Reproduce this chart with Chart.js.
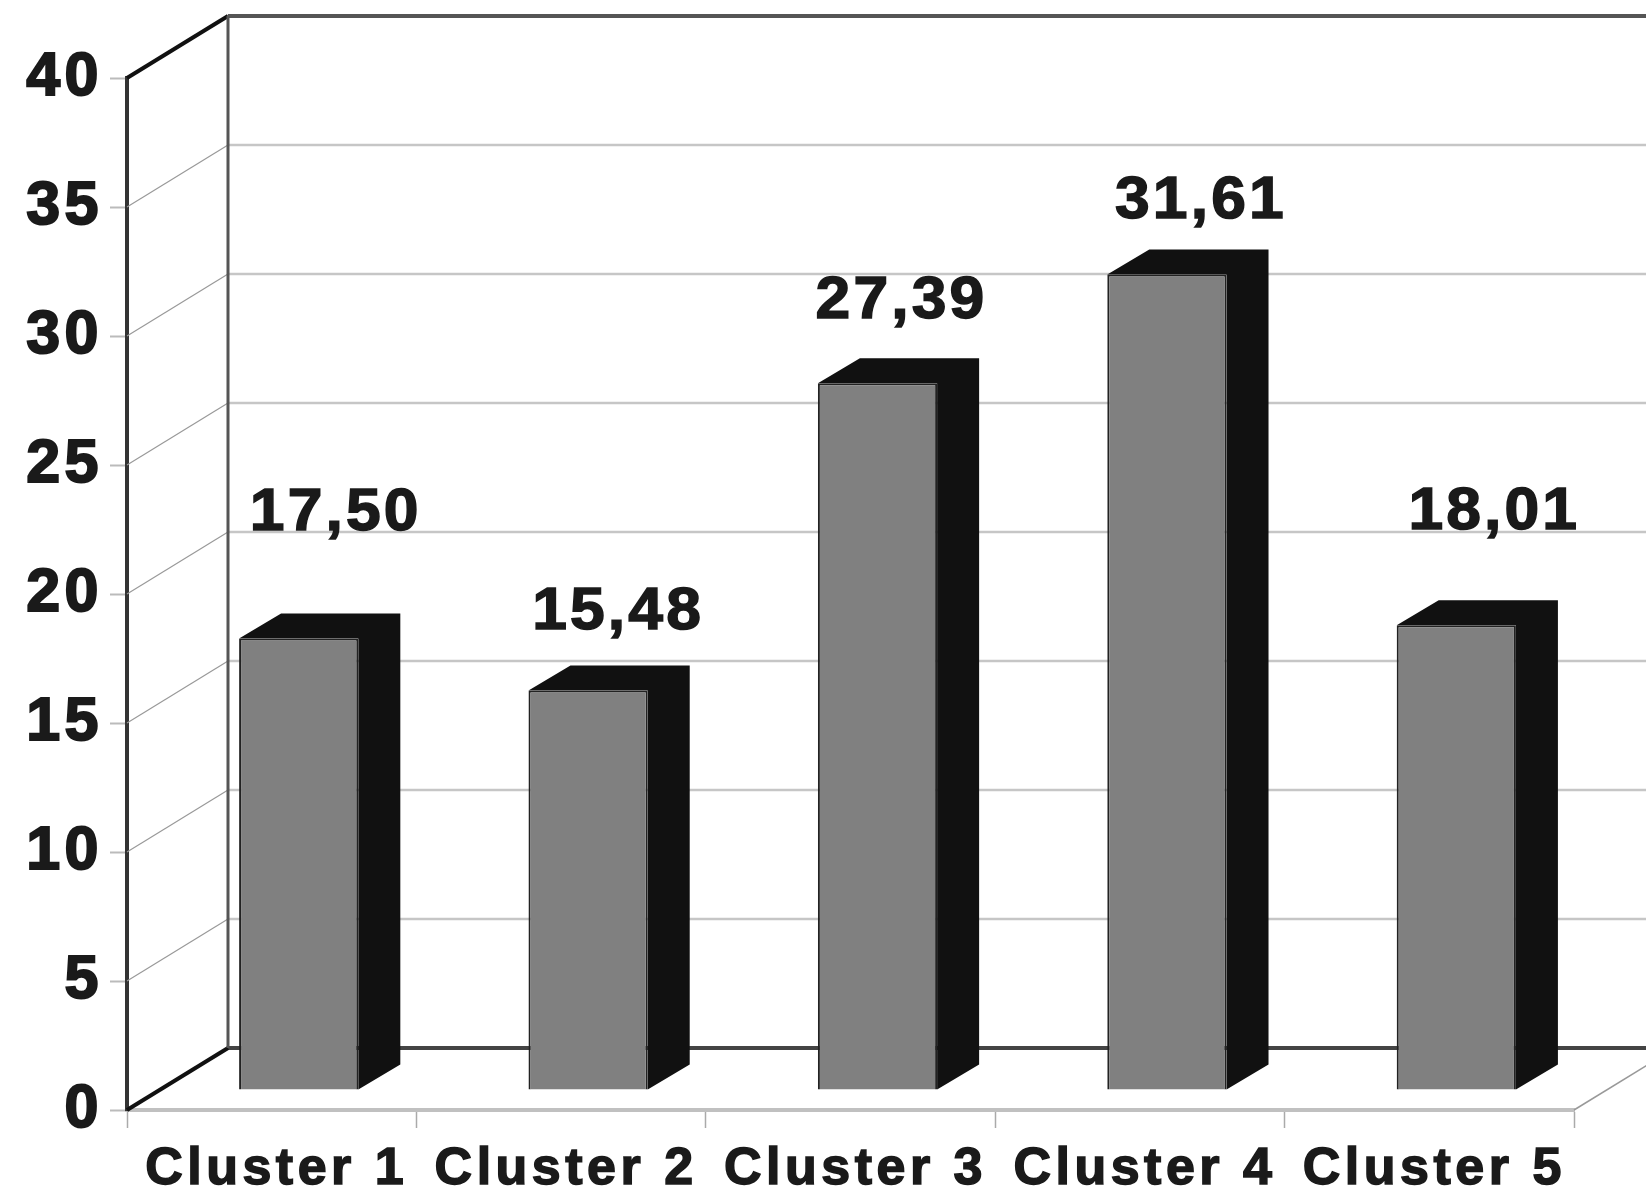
<!DOCTYPE html>
<html><head><meta charset="utf-8">
<style>html,body{margin:0;padding:0;background:#fff}canvas{display:block}</style>
<script src="https://cdn.jsdelivr.net/npm/chart.js@4"></script></head>
<body><canvas id="c" width="1646" height="1193"></canvas>
<script>
const categories = ["Cluster 1","Cluster 2","Cluster 3","Cluster 4","Cluster 5"];
const values = [17.50,15.48,27.39,31.61,18.01];
const yMin = 0, yMax = 40, yStep = 5;

const WALL = {dx:101, dy:-62};
const BAR_SHIFT = {dx:27, dy:-20};
const BAR_DEPTH = {dx:42, dy:-25};
const LABEL_SHIFT = [[37,-109],[30,-62],[24,-65],[34,-56],[38,-96]];
const TEXT = "#1a1a1a";
const FONT = "'Liberation Sans', Arial, sans-serif";

function line(ctx,x1,y1,x2,y2,color,w){
  ctx.beginPath();ctx.moveTo(x1,y1);ctx.lineTo(x2,y2);
  ctx.strokeStyle=color;ctx.lineWidth=w;ctx.stroke();
}
const threeD = {
  id:"threeD",
  beforeDraw(chart){ chart.ctx.letterSpacing="4.5px"; },
  beforeDatasetsDraw(chart){
    const ctx=chart.ctx, {x,y}=chart.scales, L=x.left, R=x.right, W=chart.width;
    y.ticks.forEach(t=>{
      const py=y.getPixelForValue(t.value), edge=t.value===yMin||t.value===yMax;
      const colBack = t.value===yMax?"#555":t.value===yMin?"#444":"#c6c6c6";
      line(ctx,L+WALL.dx,py+WALL.dy,W,py+WALL.dy,colBack,edge?4:2.5);
      line(ctx,L,py,L+WALL.dx,py+WALL.dy,edge?"#111":"#999",edge?4:1.2);
    });
    const y0=y.getPixelForValue(yMin), yT=y.getPixelForValue(yMax);
    line(ctx,L+WALL.dx,yT+WALL.dy,L+WALL.dx,y0+WALL.dy,"#555",3);
    line(ctx,R,y0,R+WALL.dx,y0+WALL.dy,"#999",1.5);
    ctx.save();
    ctx.translate(BAR_SHIFT.dx,BAR_SHIFT.dy);
    chart.getDatasetMeta(0).data.forEach(b=>{
      const l=b.x-b.width/2, r=b.x+b.width/2, t=b.y, o=b.base, d=BAR_DEPTH;
      ctx.beginPath();
      ctx.moveTo(l,t);ctx.lineTo(l+d.dx,t+d.dy);ctx.lineTo(r+d.dx,t+d.dy);
      ctx.lineTo(r+d.dx,o+d.dy);ctx.lineTo(r,o);ctx.lineTo(r,t);ctx.closePath();
      ctx.fillStyle="#111";ctx.fill();
    });
  },
  afterDatasetsDraw(chart){
    const ctx=chart.ctx;
    ctx.restore();
    ctx.font="bold 60px "+FONT;
    ctx.fillStyle=TEXT;ctx.strokeStyle=TEXT;ctx.lineWidth=1.5;
    ctx.textAlign="center";ctx.textBaseline="alphabetic";
    ctx.letterSpacing="3px";
    chart.getDatasetMeta(0).data.forEach((b,i)=>{
      const s=values[i].toFixed(2).replace(".",",");
      ctx.save();
      ctx.translate(b.x+BAR_SHIFT.dx+LABEL_SHIFT[i][0], b.y+BAR_SHIFT.dy+LABEL_SHIFT[i][1]);
      ctx.scale(1.04,1);
      ctx.fillText(s,0,0);ctx.strokeText(s,0,0);
      ctx.restore();
    });
    ctx.letterSpacing="4.5px";
  }
};
new Chart(document.getElementById("c"),{
  type:"bar",
  data:{labels:categories,datasets:[{data:values,backgroundColor:"#808080",borderColor:"#222",borderWidth:2,
    barPercentage:0.412,categoryPercentage:1,clip:false}]},
  plugins:[threeD],
  options:{
    responsive:false,animation:false,devicePixelRatio:1,
    layout:{padding:{left:0,right:72,top:78,bottom:0}},
    plugins:{legend:{display:false},title:{display:false},tooltip:{enabled:false}},
    scales:{
      x:{
        afterFit(s){s.height=83;},
        grid:{drawOnChartArea:false,drawTicks:true,tickLength:18,tickColor:"#aaa",tickWidth:1.5},
        border:{color:"#c0c0c0",width:4},
        ticks:{maxRotation:0,minRotation:0,autoSkip:false,color:TEXT,padding:10,labelOffset:5,
          textStrokeColor:TEXT,textStrokeWidth:1.5,font:{family:FONT,size:52,weight:"bold"}}
      },
      y:{
        min:yMin,max:yMax,
        afterFit(s){s.width=127;},
        grid:{drawOnChartArea:false,drawTicks:true,tickLength:17,tickColor:"#bbb",tickWidth:2},
        border:{color:"#333",width:4},
        ticks:{stepSize:yStep,color:TEXT,padding:7,textStrokeColor:TEXT,textStrokeWidth:2,font:{family:FONT,size:61,weight:"bold"}}
      }
    }
  }
});
</script></body></html>
